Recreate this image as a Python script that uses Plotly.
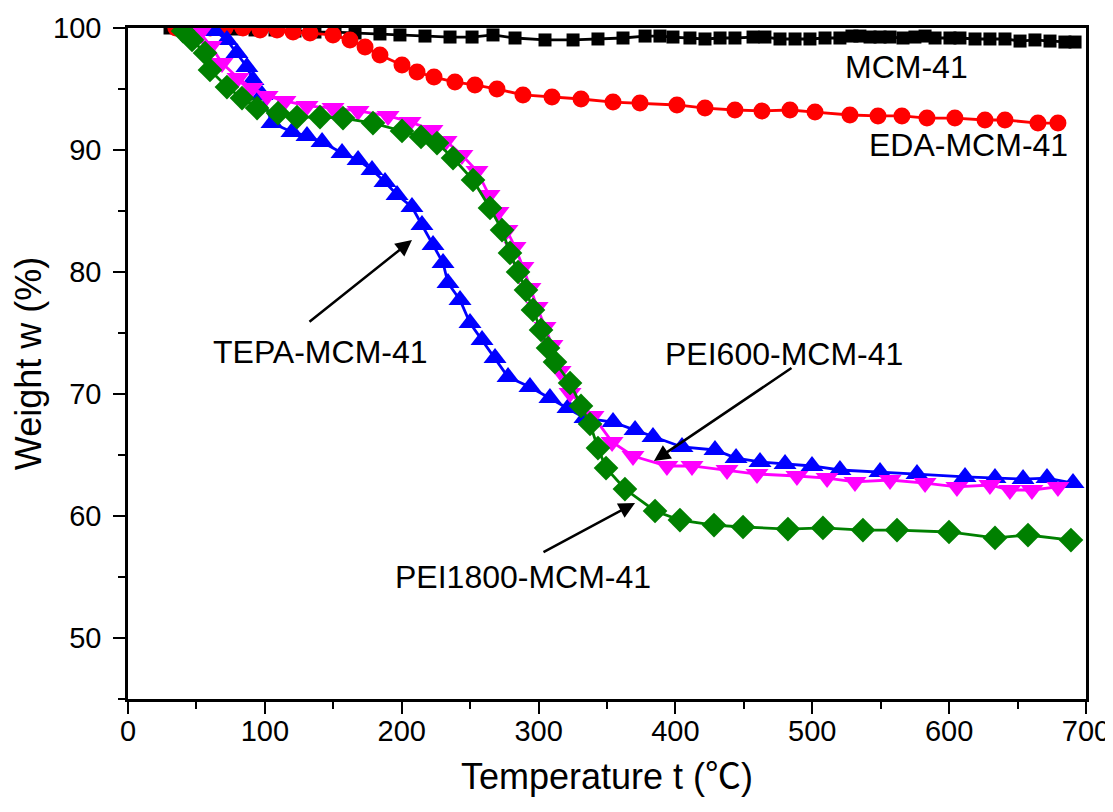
import plotly.graph_objects as go

# ---------------- data ----------------
mcm_t = [30.7, 45.3, 59.9, 78.2, 92.8, 107.4, 122.0, 136.6, 151.3, 165.9, 184.1, 198.7, 217.0,
         235.3, 251.4, 266.7, 282.8, 304.7, 325.2, 343.4, 361.7, 377.8, 388.7, 398.2, 410.6,
         421.6, 432.6, 443.5, 456.7, 465.4, 476.4, 487.4, 498.3, 509.3, 520.2, 529.0, 534.8,
         542.2, 549.5, 556.8, 566.3, 575.0, 582.4, 589.7, 600.6, 607.9, 618.9, 629.8, 640.8,
         651.8, 662.7, 673.7, 684.6, 692.0]
mcm_w = [100.0, 100.0, 100.0, 99.92, 99.84, 99.84, 99.75, 99.67, 99.67, 99.59, 99.51, 99.43, 99.34,
         99.26, 99.26, 99.43, 99.18, 99.02, 99.02, 99.10, 99.18, 99.34, 99.34, 99.26, 99.18,
         99.10, 99.18, 99.18, 99.26, 99.26, 99.10, 99.10, 99.10, 99.18, 99.18, 99.34, 99.34,
         99.26, 99.26, 99.26, 99.18, 99.26, 99.34, 99.18, 99.18, 99.18, 99.10, 99.10, 99.10,
         98.93, 99.02, 98.93, 98.85, 98.85]

eda_t = [35.0, 48.0, 60.0, 70.9, 84.0, 96.5, 108.9, 120.6, 133.0, 149.8, 162.2, 173.2, 184.1,
         200.2, 211.2, 223.6, 238.9, 253.5, 269.6, 288.6, 309.8, 331.0, 354.4, 374.1, 401.1,
         421.6, 443.5, 463.2, 483.7, 502.0, 527.5, 548.0, 565.5, 583.8, 604.2, 626.2, 640.8,
         664.9, 679.5]
eda_w = [100.0, 100.0, 100.0, 100.0, 100.0, 99.84, 99.84, 99.67, 99.59, 99.43, 99.02, 98.44, 97.79,
         96.96, 96.39, 95.98, 95.57, 95.33, 95.00, 94.51, 94.34, 94.18, 93.93, 93.85, 93.69,
         93.44, 93.28, 93.20, 93.28, 93.11, 92.87, 92.79, 92.79, 92.62, 92.62, 92.46, 92.46,
         92.21, 92.21]

tepa_t = [52.6, 63.6, 72.3, 79.6, 86.9, 91.3, 97.9, 105.2, 119.8, 130.8, 141.8, 156.4, 168.1,
          178.3, 187.8, 196.6, 207.5, 214.8, 222.9, 230.2, 233.8, 242.6, 249.9, 258.7, 268.2,
          277.7, 293.7, 308.3, 321.5, 333.9, 354.4, 370.5, 383.6, 404.8, 428.9, 444.3, 461.8,
          480.1, 499.8, 520.2, 549.5, 576.5, 611.6, 633.5, 654.0, 671.5, 690.5]
tepa_w = [100.0, 99.75, 99.02, 97.95, 96.80, 95.74, 94.51, 92.21, 91.48, 91.15, 90.66, 89.75, 89.18,
          88.36, 87.38, 86.31, 85.33, 83.85, 82.21, 80.74, 79.10, 77.70, 75.82, 74.43, 72.95,
          71.39, 70.57, 69.67, 68.85, 68.03, 67.70, 67.05, 66.48, 65.66, 65.41, 64.75, 64.43,
          64.26, 64.10, 63.77, 63.61, 63.44, 63.20, 63.11, 63.03, 63.11, 62.70]

pei600_t = [41.6, 52.6, 60.6, 68.7, 80.4, 90.6, 101.6, 114.7, 130.8, 149.8, 168.1, 190.0, 206.1,
            222.1, 232.4, 244.0, 255.0, 263.8, 270.4, 276.9, 282.8, 288.6, 293.7, 298.9, 304.7,
            309.8, 315.7, 323.0, 339.8, 353.7, 369.0, 393.8, 412.1, 437.7, 459.6, 488.8, 510.8,
            531.2, 556.8, 582.4, 605.7, 629.8, 644.4, 660.5, 679.5]
pei600_w = [100.0, 99.59, 98.52, 97.13, 95.90, 95.08, 94.43, 94.02, 93.61, 93.44, 93.20, 92.79, 92.30,
            91.64, 90.74, 89.59, 88.28, 86.31, 84.92, 83.44, 82.05, 80.41, 78.69, 77.13, 75.49,
            74.02, 71.89, 70.08, 68.20, 66.07, 64.92, 64.10, 64.10, 63.77, 63.44, 63.28, 63.11,
            62.79, 62.95, 62.70, 62.38, 62.54, 62.13, 62.13, 62.38]

pei1800_t = [40.2, 46.8, 56.3, 59.9, 72.3, 83.3, 94.3, 109.6, 123.5, 140.3, 157.1, 179.0, 200.2,
             214.1, 225.8, 237.5, 252.1, 264.5, 273.3, 279.1, 285.0, 290.8, 295.9, 301.8, 306.9,
             312.0, 323.0, 331.0, 337.6, 343.4, 349.3, 363.1, 385.1, 403.3, 428.2, 449.4, 482.2,
             507.8, 537.0, 561.9, 599.9, 633.5, 657.6, 689.0]
pei1800_w = [99.75, 99.02, 97.95, 96.56, 95.16, 94.26, 93.44, 93.03, 92.70, 92.70, 92.62, 92.21, 91.56,
             91.07, 90.57, 89.34, 87.54, 85.25, 83.44, 81.56, 80.00, 78.52, 76.89, 75.25, 73.77,
             72.62, 70.90, 69.02, 67.54, 65.57, 63.93, 62.21, 60.41, 59.67, 59.26, 59.10, 58.93,
             59.02, 58.85, 58.85, 58.69, 58.20, 58.44, 58.03]

x_ticks = [0, 100, 200, 300, 400, 500, 600, 700]
y_ticks = [50, 60, 70, 80, 90, 100]

# ---------------- figure ----------------
fig = go.Figure()

series = [
    (mcm_t, mcm_w, "MCM-41", "#000000", "square", 13),
    (eda_t, eda_w, "EDA-MCM-41", "#FF0000", "circle", 17),
    (tepa_t, tepa_w, "TEPA-MCM-41", "#0000FF", "triangle-up", 20),
    (pei600_t, pei600_w, "PEI600-MCM-41", "#FF00FF", "triangle-down", 20),
    (pei1800_t, pei1800_w, "PEI1800-MCM-41", "#008000", "diamond", 19),
]
for t, w, name, col, sym, sz in series:
    fig.add_trace(go.Scatter(
        x=t, y=w, name=name, mode="lines+markers",
        line=dict(color=col, width=2.8),
        marker=dict(symbol=sym, size=sz, color=col, line=dict(width=0)),
    ))

font_main = "Liberation Sans, Arial, Noto Sans CJK SC, sans-serif"

labels = [
    ("MCM-41", 568.5, 96.8),
    ("EDA-MCM-41", 613.8, 90.4),
    ("TEPA-MCM-41", 140.3, 73.44),
    ("PEI600-MCM-41", 479.3, 73.28),
    ("PEI1800-MCM-41", 288.6, 55.0),
]
for txt, x, y in labels:
    fig.add_annotation(x=x, y=y, text=txt, showarrow=False,
                       font=dict(family=font_main, size=32, color="black"),
                       xanchor="center", yanchor="middle")

arrows = [
    (207.5, 82.62, 131.5, 75.82),
    (384.3, 64.51, 485.9, 72.21),
    (370.5, 61.07, 302.5, 56.97),
]
for hx, hy, tx, ty in arrows:
    fig.add_annotation(x=hx, y=hy, ax=tx, ay=ty, xref="x", yref="y", axref="x", ayref="y",
                       text="", showarrow=True, arrowhead=2, arrowsize=1.3,
                       arrowwidth=2.5, arrowcolor="black")

fig.update_layout(
    width=1105, height=804,
    margin=dict(l=120, r=27, t=20, b=113),
    paper_bgcolor="white", plot_bgcolor="white",
    showlegend=False,
)
fig.update_xaxes(
    range=[0, 700], tickvals=x_ticks, automargin=False, ticklabeloverflow="allow",
    ticklabelstandoff=-8,
    showgrid=False, zeroline=False,
    showline=True, linecolor="black", linewidth=2.5, mirror=True,
    ticks="outside", ticklen=12, tickwidth=2, tickcolor="black",
    minor=dict(dtick=50, ticks="outside", ticklen=7, tickwidth=2, tickcolor="black"),
    tickfont=dict(family=font_main, size=29, color="black"),
    title=dict(text="Temperature t (<span style='font-family:Noto Sans CJK SC'>℃</span>)",
               font=dict(family=font_main, size=36, color="black"),
               standoff=0),
)
fig.update_yaxes(
    range=[45, 100], tickvals=y_ticks, automargin=False,
    ticklabelstandoff=6,
    showgrid=False, zeroline=False,
    showline=True, linecolor="black", linewidth=2.5, mirror=True,
    ticks="outside", ticklen=12, tickwidth=2, tickcolor="black",
    minor=dict(dtick=5, tick0=45, ticks="outside", ticklen=7, tickwidth=2, tickcolor="black"),
    tickfont=dict(family=font_main, size=29, color="black"),
    title=dict(text="Weight w (%)", font=dict(family=font_main, size=36, color="black"),
               standoff=12),
)

fig.write_html("out.html")
